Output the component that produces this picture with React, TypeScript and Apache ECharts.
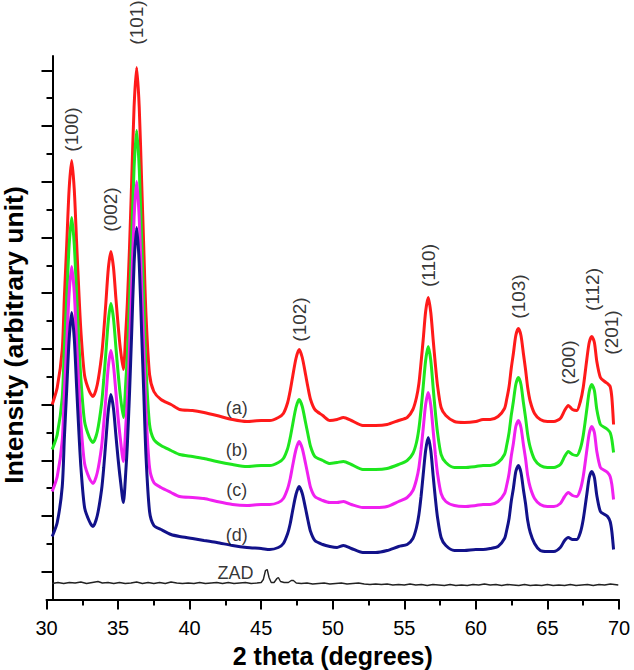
import { useEffect, useRef } from "react";
import * as echarts from "echarts";

// Shared 2-theta grid (degrees) for the four doped samples
const twoTheta = [
  30.4, 30.75, 31.1, 31.25, 31.41, 31.58, 31.76, 31.94, 32.11, 32.26, 32.41, 32.66, 33.0, 33.25,
  33.55, 33.85, 34.0, 34.15, 34.32, 34.5, 34.68, 34.85, 35.0, 35.15, 35.37,
  35.55, 35.65, 35.8, 35.95, 36.12, 36.3, 36.48, 36.65, 36.8, 36.95, 37.2, 37.5,
  38.0, 38.7, 39.3, 40.2, 41.0, 41.9, 43.0, 44.0, 45.0, 45.6,
  46.2, 46.55, 46.85, 47.03, 47.2, 47.43, 47.65, 47.87, 48.1, 48.27, 48.45, 48.75,
  49.3, 49.8, 50.3, 50.75, 51.3, 52.1, 53.0, 53.8, 54.6, 55.2,
  55.6, 55.85, 56.02, 56.17, 56.32, 56.49, 56.67, 56.85, 57.02, 57.17, 57.32, 57.57, 57.9,
  58.5, 59.2, 60.0, 60.5, 61.0, 61.55,
  62.0, 62.15, 62.32, 62.47, 62.62, 62.79, 62.97, 63.15, 63.32, 63.47, 63.62, 63.8, 64.1,
  64.5, 65.0, 65.45, 65.9, 66.2, 66.46, 66.75, 67.05, 67.3, 67.5, 67.75, 67.92, 68.1, 68.28, 68.45, 68.7, 69.0, 69.2, 69.38, 69.5, 69.62,
];

const sampleA = [
  195, 212, 250, 303, 354, 410, 439, 410, 355, 308, 267, 224, 208, 203,
  215, 244, 268, 297, 331, 348, 332, 301, 275, 252, 230,
  270, 297, 352, 418, 493, 532, 492, 417, 350, 285, 225, 208,
  200, 195, 190, 189, 187, 184, 180, 178, 179, 179,
  182, 186, 197, 209, 223, 241, 250, 242, 225, 212, 200, 190,
  184, 179, 180, 182, 179, 174, 174, 175, 179, 182,
  190, 202, 216, 237, 260, 288, 302, 287, 259, 235, 214, 192, 184,
  178, 177, 178, 180, 180, 183,
  191, 200, 213, 231, 246, 264, 271, 264, 246, 230, 212, 198, 186,
  180, 178, 178, 181, 189, 194, 190, 189, 198, 212, 240, 257, 263, 257, 238, 222, 218, 216, 213, 202, 175,
];

const sampleB = [
  150, 165, 202, 253, 301, 354, 382, 355, 303, 257, 219, 178, 162, 157,
  168, 196, 220, 247, 279, 296, 281, 252, 227, 205, 182,
  220, 245, 298, 360, 432, 469, 431, 359, 296, 233, 175, 160,
  154, 149, 145, 143, 141, 138, 135, 133, 134, 134,
  137, 141, 151, 162, 175, 192, 200, 193, 177, 165, 153, 143,
  139, 136, 137, 138, 135, 130, 130, 131, 135, 139,
  146, 157, 171, 190, 213, 239, 253, 239, 211, 187, 167, 145, 137,
  132, 132, 133, 134, 134, 137,
  145, 154, 167, 184, 198, 215, 222, 215, 197, 182, 165, 152, 140,
  134, 132, 132, 135, 143, 148, 145, 144, 151, 164, 190, 208, 215, 209, 190, 175, 172, 170, 167, 160, 147,
];

const sampleC = [
  108, 123, 159, 208, 255, 306, 333, 307, 256, 213, 175, 136, 121, 116,
  127, 153, 176, 202, 233, 249, 234, 207, 182, 162, 138,
  176, 200, 251, 312, 382, 418, 381, 311, 250, 188, 132, 117,
  112, 107, 103, 102, 101, 98, 95, 94, 95, 95,
  97, 101, 111, 121, 134, 150, 158, 151, 136, 124, 112, 103,
  99, 97, 97, 98, 95, 92, 92, 93, 98, 102,
  109, 120, 132, 150, 171, 195, 207, 194, 168, 145, 126, 106, 98,
  94, 93, 94, 95, 95, 98,
  106, 114, 126, 143, 156, 173, 179, 172, 155, 141, 124, 112, 101,
  95, 93, 93, 96, 103, 107, 104, 103, 110, 123, 149, 166, 173, 167, 148, 132, 129, 127, 123, 115, 100,
];

const sampleD = [
  63, 77, 113, 162, 209, 260, 287, 261, 211, 168, 131, 92, 78, 73,
  84, 110, 132, 159, 189, 205, 191, 164, 141, 121, 97,
  130, 155, 206, 266, 336, 372, 336, 266, 205, 144, 88, 74,
  70, 65, 63, 61, 59, 57, 54, 52, 51, 50,
  52, 56, 66, 76, 89, 105, 113, 106, 91, 79, 68, 59,
  55, 53, 52, 54, 51, 47, 47, 49, 53, 55,
  61, 72, 85, 103, 125, 149, 162, 149, 123, 101, 82, 62, 54,
  49, 49, 50, 50, 51, 53,
  61, 69, 81, 98, 111, 128, 134, 127, 110, 96, 79, 67, 56,
  49, 48, 48, 52, 59, 62, 60, 60, 67, 80, 105, 122, 128, 122, 104, 88, 85, 83, 78, 68, 50,
];

// Undoped reference pattern (ZAD): [2theta, intensity]
const zadPattern = [
  [30.4, 16], [30.8, 17], [31.2, 16], [31.6, 17], [32.0, 16.5], [32.4, 17.5], [32.8, 16], [33.2, 17],
  [33.6, 18], [33.9, 16.5], [34.3, 17], [34.7, 16], [35.1, 17], [35.5, 16], [35.9, 16.5], [36.3, 17.5],
  [36.7, 16], [37.1, 17], [37.5, 16], [37.9, 17], [38.3, 16], [38.7, 17.5], [39.1, 16.5], [39.5, 16],
  [39.9, 16.5], [40.3, 16], [40.7, 17], [41.1, 16], [41.5, 16.5], [41.9, 17], [42.3, 16], [42.7, 17],
  [43.1, 16], [43.5, 16.5], [43.9, 17], [44.3, 16], [44.7, 16.5], [45.0, 17], [45.15, 20], [45.3, 29],
  [45.42, 30], [45.55, 22], [45.7, 17], [45.9, 17], [46.1, 21], [46.2, 22], [46.35, 18], [46.6, 17],
  [46.9, 17], [47.1, 19], [47.25, 19], [47.45, 16.5], [47.8, 16], [48.2, 16.5], [48.6, 15.5], [49.0, 16],
  [49.4, 16.5], [49.8, 15.5], [50.2, 16], [50.6, 16.5], [51.0, 15.5], [51.4, 16], [51.8, 16.5], [52.2, 15.5],
  [52.6, 15], [53.0, 15.5], [53.4, 15], [53.8, 15.5], [54.2, 14.5], [54.6, 15], [55.0, 14.5], [55.4, 15.5],
  [55.8, 14.5], [56.2, 15], [56.6, 14], [57.0, 15], [57.4, 14.5], [57.8, 14], [58.2, 15], [58.6, 14],
  [59.0, 14.5], [59.4, 14], [59.8, 15], [60.2, 14.5], [60.6, 15.5], [61.0, 14.5], [61.4, 15], [61.8, 14],
  [62.2, 15], [62.6, 14.5], [63.0, 14], [63.4, 15], [63.8, 14], [64.2, 14.5], [64.6, 14], [65.0, 15],
  [65.4, 14], [65.8, 14.5], [66.2, 14], [66.6, 15], [67.0, 14], [67.4, 14.5], [67.8, 15], [68.2, 14],
  [68.6, 15], [69.0, 14.5], [69.4, 15.5], [69.95, 14.5],
];

// Reflection annotations
const peakLabels = ["(100)", "(002)", "(101)", "(102)", "(110)", "(103)", "(200)", "(112)", "(201)"];
const peakLabelTheta = [31.78, 34.44, 36.32, 47.71, 56.66, 62.95, 66.44, 68.12, 69.45];
const peakLabelIntensity = [470, 390, 577, 280, 334, 303, 237, 310, 267];

const curveLabels = ["(a)", "(b)", "(c)", "(d)", "ZAD"];
const curveLabelTheta = [43.3, 43.3, 43.3, 43.3, 43.2];
const curveLabelIntensity = [192, 150, 110, 65, 27];

// Axis ticks
const yShortTicks = [55.7, 111.4, 167.1, 222.8, 278.5, 334.2, 389.9, 445.6, 501.3];
const yLongTicks = [27.85, 83.55, 139.25, 194.95, 250.65, 306.35, 362.05, 417.75, 473.45, 529.15];

const FONT = "Liberation Sans, Arial, sans-serif";

export default function App() {
  const ref = useRef<HTMLDivElement>(null);

  useEffect(() => {
    if (!ref.current) return;
    const chart = echarts.init(ref.current, undefined, { renderer: "svg" });

    const lineSeries = (name: string, values: number[], color: string) => ({
      name,
      type: "line",
      data: twoTheta.map((t, i) => [t, values[i]]),
      showSymbol: false,
      symbol: "none",
      smooth: 0.25,
      lineStyle: { color, width: 3 },
      z: 3,
    });

    const tickStyle = { color: "#000", width: 2 };

    chart.setOption({
      animation: false,
      backgroundColor: "#fff",
      textStyle: { fontFamily: FONT },
      grid: {
        left: 46.5,
        right: 15,
        top: 56,
        bottom: 70.5,
        containLabel: false,
        outerBoundsMode: "none",
      },
      graphic: [
        {
          type: "text",
          x: 14,
          y: 335,
          rotation: Math.PI / 2,
          style: {
            text: "Intensity (arbitrary unit)",
            fontSize: 26.5,
            lineHeight: 26,
            fontWeight: "bold",
            fontFamily: FONT,
            fill: "#000",
            align: "center",
            verticalAlign: "middle",
            textAlign: "center",
            textVerticalAlign: "middle",
          },
        },
      ],
      xAxis: {
        type: "value",
        min: 30,
        max: 70,
        interval: 5,
        axisLine: { show: true, lineStyle: { color: "#000", width: 2 } },
        axisTick: { show: true, length: 10, lineStyle: tickStyle },
        minorTick: { show: true, splitNumber: 2, length: 6, lineStyle: tickStyle },
        axisLabel: { fontSize: 20, color: "#000", margin: 18, fontFamily: FONT },
        splitLine: { show: false },
        minorSplitLine: { show: false },
        name: "2 theta (degrees)",
        nameLocation: "middle",
        nameGap: 44,
        nameTextStyle: { fontSize: 25, fontWeight: "bold", color: "#000", fontFamily: FONT },
      },
      yAxis: [
        {
          type: "value",
          min: 0,
          max: 543.5,
          position: "left",
          offset: -6,
          axisLine: { show: true, onZero: false, lineStyle: { color: "#000", width: 2 } },
          axisTick: { show: true, length: 6, customValues: yShortTicks, lineStyle: tickStyle },
          axisLabel: { show: false },
          splitLine: { show: false },
        },
        {
          type: "value",
          min: 0,
          max: 543.5,
          position: "left",
          offset: -6,
          axisLine: { show: false, onZero: false },
          axisTick: { show: true, length: 11, customValues: yLongTicks, lineStyle: tickStyle },
          axisLabel: { show: false },
          splitLine: { show: false },
        },
      ],
      series: [
        {
          name: "ZAD",
          type: "line",
          data: zadPattern,
          showSymbol: false,
          symbol: "none",
          lineStyle: { color: "#222", width: 1.4 },
          z: 2,
        },
        lineSeries("(a)", sampleA, "#ff1a1a"),
        lineSeries("(b)", sampleB, "#1ee61e"),
        lineSeries("(c)", sampleC, "#f020f0"),
        lineSeries("(d)", sampleD, "#12128a"),
        {
          name: "peak labels",
          type: "scatter",
          clip: false,
          symbolSize: 1,
          itemStyle: { color: "transparent" },
          silent: true,
          z: 5,
          data: peakLabels.map((n, i) => ({ name: n, value: [peakLabelTheta[i], peakLabelIntensity[i]] })),
          label: {
            show: true,
            position: "inside",
            rotate: 90,
            formatter: (p: any) => p.name,
            fontSize: 19,
            color: "#000",
            fontFamily: FONT,
          },
        },
        {
          name: "curve labels",
          type: "scatter",
          clip: false,
          symbolSize: 1,
          itemStyle: { color: "transparent" },
          silent: true,
          z: 5,
          data: curveLabels.map((n, i) => ({ name: n, value: [curveLabelTheta[i], curveLabelIntensity[i]] })),
          label: {
            show: true,
            position: "inside",
            formatter: (p: any) => p.name,
            fontSize: 18,
            color: "#000",
            fontFamily: FONT,
          },
        },
      ],
    });

    return () => chart.dispose();
  }, []);

  return (
    <div
      ref={ref}
      style={{ position: "fixed", left: 0, top: 0, width: 634, height: 670, background: "#fff" }}
    />
  );
}
